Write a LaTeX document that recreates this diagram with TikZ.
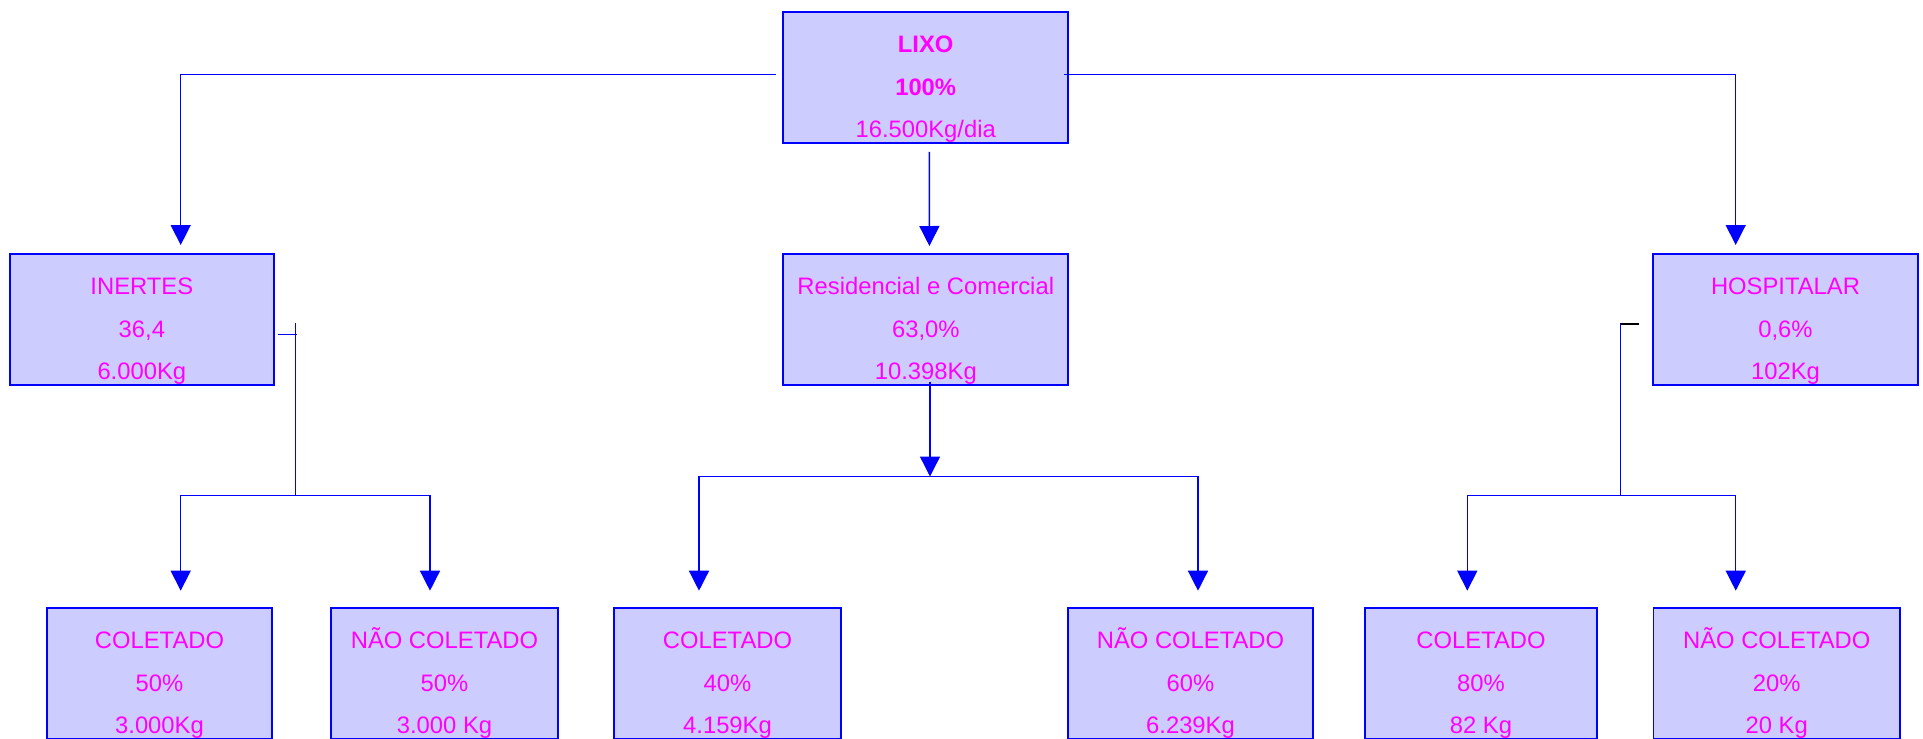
\documentclass[tikz,border=0pt]{standalone}
\usepackage{fontspec}
\setmainfont{Liberation Sans}
\usetikzlibrary{arrows.meta}
\definecolor{boxfill}{RGB}{204,204,255}
\definecolor{boxline}{RGB}{0,0,255}
\definecolor{txtcol}{RGB}{255,0,255}
\tikzset{
  boxst/.style={rectangle, draw=boxline, fill=boxfill, line width=1.8pt, minimum height=131pt, inner sep=0pt},
  txt/.style={anchor=base, inner sep=0pt, text=txtcol, font=\fontsize{23.8}{28}\selectfont},
  conn/.style={draw=boxline, line width=1.4pt},
  arr/.style={conn, -{Triangle[width=20pt,length=20pt]}},
}
\newcommand{\mybox}[7]{%
  \node[boxst, minimum width=#4pt, anchor=north] (#1) at (#2,#3) {};
  \node[txt] at ([yshift=-41.5pt]#1.north) {#5};
  \node[txt] at ([yshift=-84.5pt]#1.north) {#6};
  \node[txt] at ([yshift=-127pt]#1.north) {#7};
}
\begin{document}
\begin{tikzpicture}[x=1pt,y=-1pt]
\useasboundingbox (0,0) rectangle (1923,739);
% boxes
\mybox{lixo}{925.7}{10.7}{284.7}{\bfseries LIXO}{\bfseries 100\%}{16.500Kg/dia}
\mybox{inertes}{141.85}{252.7}{264.3}{INERTES}{36,4}{6.000Kg}
\mybox{res}{925.8}{252.7}{285}{Residencial e Comercial}{63,0\%}{10.398Kg}
\mybox{hosp}{1785.5}{252.7}{264.4}{HOSPITALAR}{0,6\%}{102Kg}
\mybox{c1}{159.5}{606.7}{225.6}{COLETADO}{50\%}{3.000Kg}
\mybox{n1}{444.5}{606.7}{227}{NÃO COLETADO}{50\%}{3.000 Kg}
\mybox{c2}{727.5}{606.7}{227}{COLETADO}{40\%}{4.159Kg}
\mybox{n2}{1190.5}{606.7}{245}{NÃO COLETADO}{60\%}{6.239Kg}
\mybox{c3}{1481}{606.7}{232}{COLETADO}{80\%}{82 Kg}
\mybox{n3}{1776.75}{606.7}{246.5}{NÃO COLETADO}{20\%}{20 Kg}
% junctions
\coordinate (ij) at (295.7,495.7);
\coordinate (rj) at (930,476.5);
\coordinate (hj) at (1620.7,495.7);
% top level
\draw[arr] ([xshift=-6.6pt,yshift=2.9pt]lixo.west) -| ([xshift=38.85pt,yshift=7.7pt]inertes.north);
\draw[arr] ([xshift=-4.7pt,yshift=2.9pt]lixo.east) -| ([xshift=-49.8pt,yshift=7.7pt]hosp.north);
\draw[arr] ([xshift=3.6pt,yshift=-8.3pt]lixo.south) -- ([xshift=3.6pt,yshift=6.7pt]res.north);
% inertes branch
\draw[conn] ([xshift=2.7pt,yshift=-15.1pt]inertes.east) -- ++(19,0);
\draw[conn] (ij) -- ++(0,-172.7);
\draw[arr] (ij) -| ([xshift=21.2pt,yshift=16pt]c1.north);
\draw[arr] (ij) -| ([xshift=-14.5pt,yshift=16pt]n1.north);
% residencial branch
\draw[arr] ([xshift=4.2pt,yshift=3.7pt]res.south) -- (rj);
\draw[arr] (rj) -| ([xshift=-28.5pt,yshift=16pt]c2.north);
\draw[arr] (rj) -| ([xshift=7.5pt,yshift=16pt]n2.north);
% hospitalar branch
\draw[line width=1.4pt, black] ([xshift=-13.3pt,yshift=-4.8pt]hosp.west) -- ++(-19.3,0);
\draw[conn] (hj) -- ++(0,-172.7);
\draw[arr] (hj) -| ([xshift=-13.7pt,yshift=16pt]c3.north);
\draw[arr] (hj) -| ([xshift=-41pt,yshift=16pt]n3.north);
\end{tikzpicture}
\end{document}
